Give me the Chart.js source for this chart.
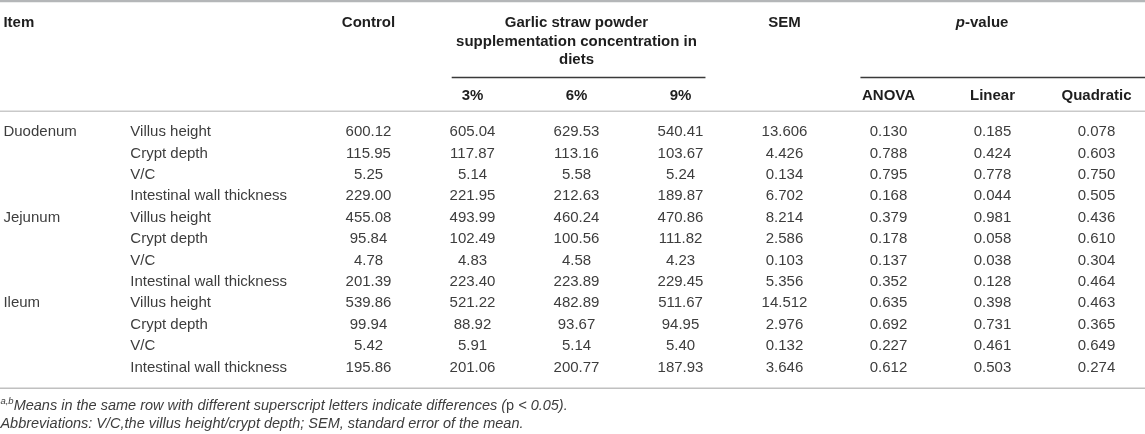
<!DOCTYPE html>
<html>
<head>
<meta charset="utf-8">
<script src="https://cdn.jsdelivr.net/npm/chart.js@4"></script>
<style>
  html, body { margin: 0; padding: 0; background: #fff; }
  #wrap { width: 1145px; height: 434px; position: relative; }
</style>
</head>
<body>
<div id="wrap"><canvas id="table"></canvas></div>
<script>
// table content
const columns = ['Control', '3%', '6%', '9%', 'SEM', 'ANOVA', 'Linear', 'Quadratic'];
const sections = ['Duodenum', 'Jejunum', 'Ileum'];
const measures = ['Villus height', 'Crypt depth', 'V/C', 'Intestinal wall thickness'];

const control = [600.12, 115.95, 5.25, 229.00, 455.08, 95.84, 4.78, 201.39, 539.86, 99.94, 5.42, 195.86];
const garlic3 = [605.04, 117.87, 5.14, 221.95, 493.99, 102.49, 4.83, 223.40, 521.22, 88.92, 5.91, 201.06];
const garlic6 = [629.53, 113.16, 5.58, 212.63, 460.24, 100.56, 4.58, 223.89, 482.89, 93.67, 5.14, 200.77];
const garlic9 = [540.41, 103.67, 5.24, 189.87, 470.86, 111.82, 4.23, 229.45, 511.67, 94.95, 5.40, 187.93];
const sem = [13.606, 4.426, 0.134, 6.702, 8.214, 2.586, 0.103, 5.356, 14.512, 2.976, 0.132, 3.646];
const pAnova = [0.130, 0.788, 0.795, 0.168, 0.379, 0.178, 0.137, 0.352, 0.635, 0.692, 0.227, 0.612];
const pLinear = [0.185, 0.424, 0.778, 0.044, 0.981, 0.058, 0.038, 0.128, 0.398, 0.731, 0.461, 0.503];
const pQuadratic = [0.078, 0.603, 0.750, 0.505, 0.436, 0.610, 0.304, 0.464, 0.463, 0.365, 0.649, 0.274];

const columnValues = [control, garlic3, garlic6, garlic9, sem, pAnova, pLinear, pQuadratic];
const decimals = [2, 2, 2, 2, 3, 3, 3, 3];

const garlicTitle = ['Garlic straw powder', 'supplementation concentration in', 'diets'];
const footnote1 = 'Means in the same row with different superscript letters indicate differences (';
const footnote2 = 'Abbreviations: V/C,the villus height/crypt depth; SEM, standard error of the mean.';

// x unit = one value column, y unit = one body row
const X_MIN = -3.543, X_MAX = 7.466;
const Y_MIN = -6.165, Y_MAX = 14.105;
const ITEM_X = -3.51, MEASURE_X = -2.29;

const FONT = '"Liberation Sans", Arial, sans-serif';
const BODY_COLOR = '#3d3d3d';
const HEAD_COLOR = '#1e1e1e';

const rowCount = control.length;

const datasets = columnValues.map((vals, c) => ({
  label: columns[c],
  data: vals.map((v, r) => ({ x: c, y: r, v: v })),
  pointRadius: 0,
  pointHoverRadius: 0
}));

function hLine(ctx, x1, x2, y, color, width) {
  ctx.save();
  ctx.strokeStyle = color;
  ctx.lineWidth = width;
  ctx.beginPath();
  ctx.moveTo(x1, y);
  ctx.lineTo(x2, y);
  ctx.stroke();
  ctx.restore();
}

// draws runs of differently styled text one after the other
function drawRuns(ctx, runs, x, y, align) {
  let total = 0;
  runs.forEach(r => { ctx.font = r.font; r.w = ctx.measureText(r.text).width; total += r.w; });
  let cx = align === 'center' ? x - total / 2 : x;
  ctx.textAlign = 'left';
  runs.forEach(r => {
    ctx.font = r.font;
    ctx.fillText(r.text, cx, y + (r.dy || 0));
    cx += r.w;
  });
}

const tablePlugin = {
  id: 'tableText',
  afterDatasetsDraw(chart) {
    const ctx = chart.ctx;
    const xs = chart.scales.x, ys = chart.scales.y;
    const X = v => xs.getPixelForValue(v);
    const Y = v => ys.getPixelForValue(v);
    const left = chart.chartArea.left, right = chart.chartArea.right;

    // rules
    hLine(ctx, left, right, Y(-6.12), '#b4b6b8', 2.5);
    hLine(ctx, X(0.80), X(3.24), Y(-2.55), '#3a3a3a', 1.5);
    hLine(ctx, X(4.73), right, Y(-2.55), '#3a3a3a', 1.5);
    hLine(ctx, left, right, Y(-0.97), '#c9c9c9', 1.5);
    hLine(ctx, left, right, Y(11.97), '#c0c0c0', 1.5);

    ctx.save();
    ctx.textBaseline = 'middle';

    // header
    ctx.fillStyle = HEAD_COLOR;
    ctx.font = 'bold 15px ' + FONT;
    ctx.textAlign = 'left';
    ctx.fillText('Item', X(ITEM_X), Y(-5.08));
    ctx.textAlign = 'center';
    ctx.fillText(columns[0], X(0), Y(-5.08));
    ctx.fillText(columns[4], X(4), Y(-5.08));
    garlicTitle.forEach((t, i) => ctx.fillText(t, X(2), Y(-5.08 + i * 0.85)));
    [1, 2, 3, 5, 6, 7].forEach(c => ctx.fillText(columns[c], X(c), Y(-1.7)));
    drawRuns(ctx, [
      { text: 'p', font: 'italic bold 15px ' + FONT },
      { text: '-value', font: 'bold 15px ' + FONT }
    ], X(5.9), Y(-5.08), 'center');

    // row labels
    ctx.fillStyle = BODY_COLOR;
    ctx.font = '15px ' + FONT;
    ctx.textAlign = 'left';
    for (let r = 0; r < rowCount; r++) {
      if (r % measures.length === 0) {
        ctx.fillText(sections[r / measures.length], X(ITEM_X), Y(r));
      }
      ctx.fillText(measures[r % measures.length], X(MEASURE_X), Y(r));
    }

    // cell values placed by the scales
    ctx.textAlign = 'center';
    chart.data.datasets.forEach((ds, c) => {
      const meta = chart.getDatasetMeta(c);
      meta.data.forEach((pt, r) => {
        ctx.fillText(ds.data[r].v.toFixed(decimals[c]), pt.x, pt.y);
      });
    });

    // footnotes
    ctx.fillStyle = '#3d3d3d';
    const it = 'italic 14.5px ' + FONT;
    drawRuns(ctx, [
      { text: 'a,b', font: 'italic 9.5px ' + FONT, dy: -5 },
      { text: footnote1, font: it },
      { text: 'p', font: '14.5px ' + FONT },
      { text: ' < 0.05).', font: it }
    ], X(ITEM_X) - 3, Y(12.8), 'left');
    drawRuns(ctx, [{ text: footnote2, font: it }], X(ITEM_X) - 3, Y(13.64), 'left');

    ctx.restore();
  }
};

new Chart(document.getElementById('table'), {
  type: 'scatter',
  data: { datasets: datasets },
  options: {
    responsive: true,
    maintainAspectRatio: false,
    animation: false,
    events: [],
    layout: { padding: 0 },
    plugins: { legend: { display: false }, tooltip: { enabled: false } },
    scales: {
      x: { type: 'linear', min: X_MIN, max: X_MAX, display: false },
      y: { type: 'linear', min: Y_MIN, max: Y_MAX, reverse: true, display: false }
    }
  },
  plugins: [tablePlugin]
});
</script>
</body>
</html>
